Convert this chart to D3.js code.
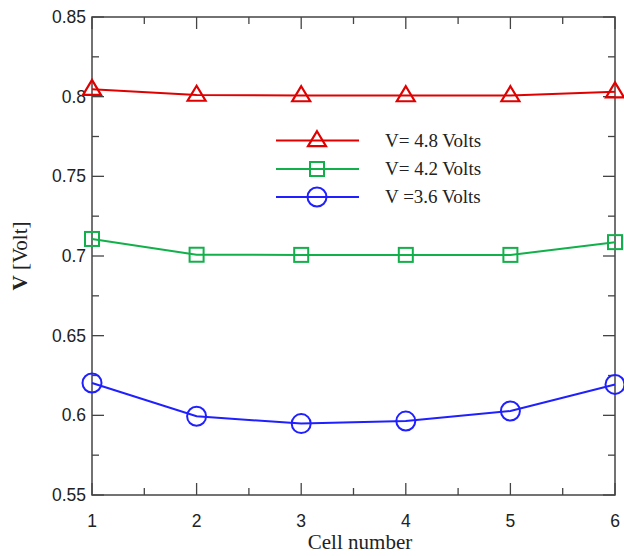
<!DOCTYPE html>
<html><head><meta charset="utf-8">
<script src="https://cdn.jsdelivr.net/npm/d3@7"></script>
<style>body{margin:0;background:#fff}</style>
</head><body>
<svg id="c" width="624" height="556"></svg>
<script>
const cells = [1, 2, 3, 4, 5, 6];
const v48 = [0.8047, 0.8010, 0.8007, 0.8007, 0.8007, 0.8031];
const v42 = [0.7107, 0.7008, 0.7007, 0.7007, 0.7007, 0.7087];
const v36 = [0.6203, 0.5994, 0.5948, 0.5964, 0.6027, 0.6194];
const seriesNames = ["V= 4.8 Volts", "V= 4.2 Volts", "V =3.6 Volts"];
const seriesColors = ["#e00000", "#12b04a", "#1f1fff"];
const seriesShapes = ["triangle", "square", "circle"];
const xTicks = [1, 2, 3, 4, 5, 6];
const yTicks = [0.55, 0.6, 0.65, 0.7, 0.75, 0.8, 0.85];
const yTickLabels = ["0.55", "0.6", "0.65", "0.7", "0.75", "0.8", "0.85"];

const svg = d3.select("#c");
const L = 92, R = 615, T = 17, B = 495;
const x = d3.scaleLinear().domain([1, 6]).range([L, R]);
const y = d3.scaleLinear().domain([0.55, 0.85]).range([B, T]);

const axisColor = "#444";
const g = svg.append("g");
const xMinor = d3.range(1.5, 6, 1);
const yMinor = d3.range(0.575, 0.85, 0.05);
function tick(x1, y1, x2, y2) {
  g.append("line").attr("x1", x1).attr("y1", y1).attr("x2", x2).attr("y2", y2)
    .attr("stroke", axisColor).attr("stroke-width", 1.3);
}
xTicks.forEach(t => { tick(x(t), B, x(t), B - 12); tick(x(t), T, x(t), T + 12); });
xMinor.forEach(t => { tick(x(t), B, x(t), B - 7); tick(x(t), T, x(t), T + 7); });
yTicks.forEach(t => { tick(L, y(t), L + 12, y(t)); tick(R, y(t), R - 12, y(t)); });
yMinor.forEach(t => { tick(L, y(t), L + 7, y(t)); tick(R, y(t), R - 7, y(t)); });
g.append("rect").attr("x", L).attr("y", T).attr("width", R - L).attr("height", B - T)
  .attr("fill", "none").attr("stroke", axisColor).attr("stroke-width", 1.5);

svg.append("g").selectAll("text").data(xTicks).join("text")
  .attr("x", d => x(d)).attr("y", B + 32).attr("text-anchor", "middle")
  .attr("font-family", "Liberation Sans, Arial, sans-serif").attr("font-size", 17.5)
  .attr("fill", "#222").text(d => d);
svg.append("g").selectAll("text").data(yTicks).join("text")
  .attr("x", L - 6).attr("y", d => y(d) + 6).attr("text-anchor", "end")
  .attr("font-family", "Liberation Sans, Arial, sans-serif").attr("font-size", 17.5)
  .attr("fill", "#222").text((d, i) => yTickLabels[i]);

svg.append("text").attr("x", 360).attr("y", 549).attr("text-anchor", "middle")
  .attr("font-family", "Liberation Serif, Times New Roman, serif").attr("font-size", 21)
  .attr("fill", "#222").text("Cell number");
const yt = svg.append("text").attr("transform", "translate(27,256) rotate(-90)")
  .attr("text-anchor", "middle")
  .attr("font-family", "Liberation Serif, Times New Roman, serif").attr("font-size", 21)
  .attr("fill", "#222");
yt.append("tspan").attr("font-weight", "bold").text("V");
yt.append("tspan").text(" [Volt]");

function drawMarker(sel, shape, cx, cy, color) {
  if (shape === "triangle") {
    const w = 18, h = 15;
    sel.append("path").attr("d", `M${cx},${cy - h * 0.62} L${cx + w / 2},${cy + h * 0.38} L${cx - w / 2},${cy + h * 0.38} Z`)
      .attr("fill", "none").attr("stroke", color).attr("stroke-width", 2.2);
  } else if (shape === "square") {
    const s = 14;
    sel.append("rect").attr("x", cx - s / 2).attr("y", cy - s / 2).attr("width", s).attr("height", s)
      .attr("fill", "none").attr("stroke", color).attr("stroke-width", 2);
  } else {
    sel.append("circle").attr("cx", cx).attr("cy", cy).attr("r", 9.5)
      .attr("fill", "none").attr("stroke", color).attr("stroke-width", 2);
  }
}

const allSeries = [v48, v42, v36];
const line = d3.line().x((d, i) => x(cells[i])).y(d => y(d));
allSeries.forEach((vals, si) => {
  const sg = svg.append("g");
  sg.append("path").attr("d", line(vals)).attr("fill", "none")
    .attr("stroke", seriesColors[si]).attr("stroke-width", 2);
  vals.forEach((v, i) => drawMarker(sg, seriesShapes[si], x(cells[i]), y(v), seriesColors[si]));
});

const legY = [140.5, 169, 197];
seriesNames.forEach((name, i) => {
  const lg = svg.append("g");
  lg.append("line").attr("x1", 276).attr("x2", 359).attr("y1", legY[i]).attr("y2", legY[i])
    .attr("stroke", seriesColors[i]).attr("stroke-width", 2);
  drawMarker(lg, seriesShapes[i], 317, legY[i], seriesColors[i]);
  lg.append("text").attr("x", 385).attr("y", legY[i] + 6)
    .attr("font-family", "Liberation Serif, Times New Roman, serif").attr("font-size", 19)
    .attr("fill", "#222").text(name);
});
</script>
</body></html>
